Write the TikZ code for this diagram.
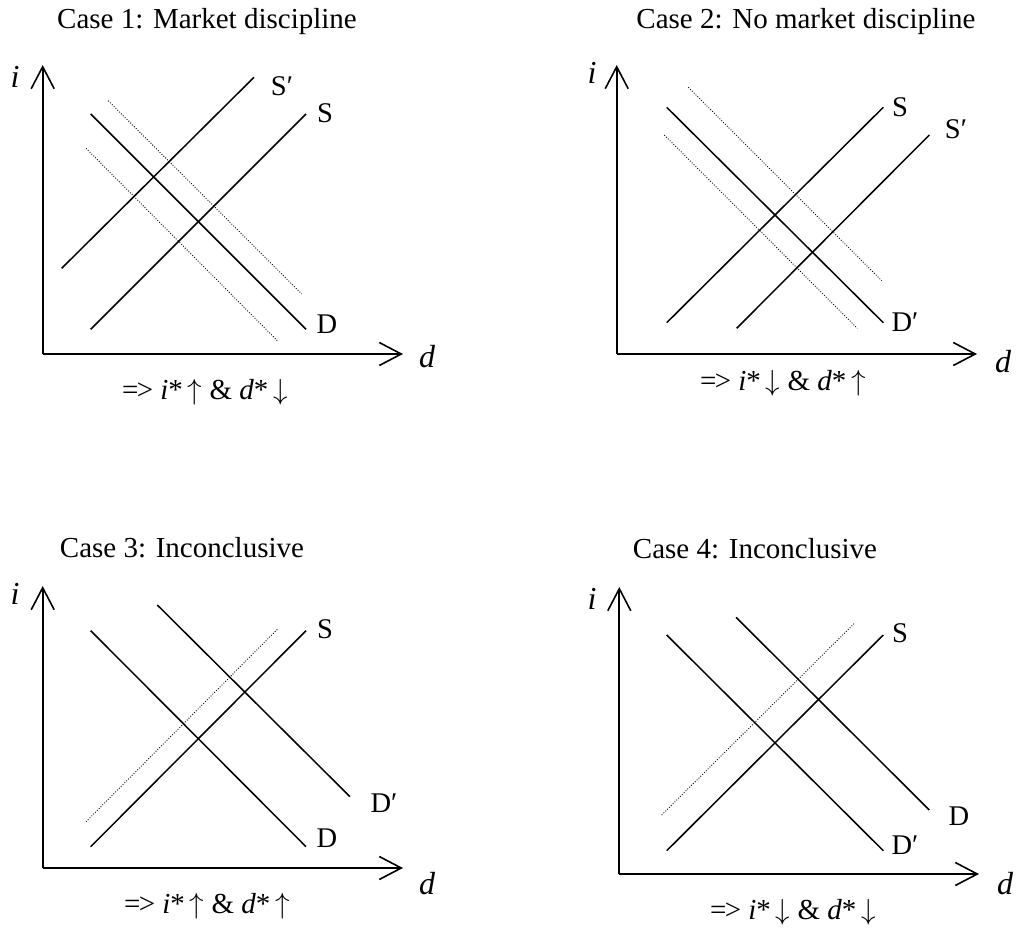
\documentclass[tikz,border=0pt]{standalone}
\usepackage{fontspec}
\setmainfont{Liberation Serif}
\DeclareFontShape{OMS}{cmsy}{m}{n}{<->cmsy10}{}
\DeclareFontShape{OML}{cmm}{m}{it}{<->cmmi10}{}
\DeclareFontShape{OT1}{cmr}{m}{n}{<->cmr10}{}
\usetikzlibrary{arrows.meta}
\tikzset{
  axisline/.style={line width=1.8pt, -{Straight Barb[length=22pt,width=23pt,line width=1.6pt]}},
  curveline/.style={line width=1.5pt},
  dotline/.style={line width=0.9pt, dash pattern=on 0.9pt off 1.7pt},
  lbl/.style={font=\fontsize{28.5}{32}\selectfont, inner sep=0pt},
  ttl/.style={font=\fontsize{29}{34}\selectfont, inner sep=0pt},
  axl/.style={font=\fontsize{32}{34}\selectfont\itshape, inner sep=0pt},
  res/.style={font=\fontsize{29}{32}\selectfont, inner sep=0pt},
}
\newcommand{\upar}{$\uparrow$}
\newcommand{\dnar}{$\downarrow$}
\newcommand{\resA}{=\kern-0.06em> \textit{i}*\,\upar{} \& \textit{d}*\,\dnar}
\newcommand{\resB}{=\kern-0.06em> \textit{i}*\,\dnar{} \& \textit{d}*\,\upar}
\newcommand{\resC}{=\kern-0.06em> \textit{i}*\,\upar{} \& \textit{d}*\,\upar}
\newcommand{\resD}{=\kern-0.06em> \textit{i}*\,\dnar{} \& \textit{d}*\,\dnar}
\begin{document}
\begin{tikzpicture}[x=1pt,y=-1pt]
\useasboundingbox[fill=white] (0,0) rectangle (1020,928);

% ---------- Case 1 ----------
\node[ttl] (t1) at (207,22) {Case 1: Market discipline};
\coordinate (o1) at (42.7,354);
\coordinate (y1) at (42.7,65);
\coordinate (x1) at (403,354);
\draw[axisline] (o1) -- (y1);
\draw[axisline] (o1) -- (x1);
\node[axl] (i1) at (15,77) {i};
\node[axl] (d1) at (427,357) {d};
\draw[curveline] (61.7,268.3) -- (254,77.3);
\draw[curveline] (90.7,329.3) -- (306,114);
\draw[curveline] (90.7,114) -- (306,329.3);
\draw[dotline] (108.3,100.7) -- (301.7,294);
\draw[dotline] (86,148.3) -- (278.3,341.7);
\node[lbl] (sp1) at (282,86) {S′};
\node[lbl] (s1) at (325,113) {S};
\node[lbl] (dd1) at (327,324) {D};
\node[res] (r1) at (205,392) {\resA};

% ---------- Case 2 ----------
\node[ttl] (t2) at (806,22) {Case 2: No market discipline};
\coordinate (o2) at (616.7,354);
\coordinate (y2) at (616.7,65);
\coordinate (x2) at (977,354);
\draw[axisline] (o2) -- (y2);
\draw[axisline] (o2) -- (x2);
\node[axl] (i2) at (592,73) {i};
\node[axl] (d2) at (1003,362) {d};
\draw[curveline] (666.7,322.7) -- (883.3,107.3);
\draw[curveline] (736.7,328.3) -- (929.3,135);
\draw[curveline] (666.7,107.3) -- (883.3,322.7);
\draw[dotline] (688.3,87.3) -- (881.7,280.7);
\draw[dotline] (664.3,135) -- (857.3,328.3);
\node[lbl] (s2) at (900,107) {S};
\node[lbl] (sp2) at (956,129) {S′};
\node[lbl] (ddp2) at (905,322) {D′};
\node[res] (r2) at (783,383) {\resB};

% ---------- Case 3 ----------
\node[ttl] (t3) at (182,548) {Case 3: Inconclusive};
\coordinate (o3) at (42.7,868);
\coordinate (y3) at (42.7,586);
\coordinate (x3) at (403,868);
\draw[axisline] (o3) -- (y3);
\draw[axisline] (o3) -- (x3);
\node[axl] (i3) at (15,594) {i};
\node[axl] (d3) at (427,884) {d};
\draw[curveline] (90.7,630.7) -- (306,846.7);
\draw[curveline] (157.3,605) -- (350,796.7);
\draw[curveline] (90.7,846.7) -- (306,630.7);
\draw[dotline] (86,821.7) -- (278.3,628.3);
\node[lbl] (s3) at (325,629) {S};
\node[lbl] (ddp3) at (384,803) {D′};
\node[lbl] (dd3) at (327,838) {D};
\node[res] (r3) at (207,906) {\resC};

% ---------- Case 4 ----------
\node[ttl] (t4) at (755,549) {Case 4: Inconclusive};
\coordinate (o4) at (619.3,874);
\coordinate (y4) at (619.3,587);
\coordinate (x4) at (979,874);
\draw[axisline] (o4) -- (y4);
\draw[axisline] (o4) -- (x4);
\node[axl] (i4) at (592,599) {i};
\node[axl] (d4) at (1005,884) {d};
\draw[curveline] (666.7,635) -- (883.3,850.7);
\draw[curveline] (736,617.3) -- (929.3,810);
\draw[curveline] (666.7,850.7) -- (883.3,635);
\draw[dotline] (661.7,815) -- (855,622.7);
\node[lbl] (s4) at (900,633) {S};
\node[lbl] (dd4) at (959,816) {D};
\node[lbl] (ddp4) at (905,845) {D′};
\node[res] (r4) at (793,912) {\resD};
\end{tikzpicture}
\end{document}
